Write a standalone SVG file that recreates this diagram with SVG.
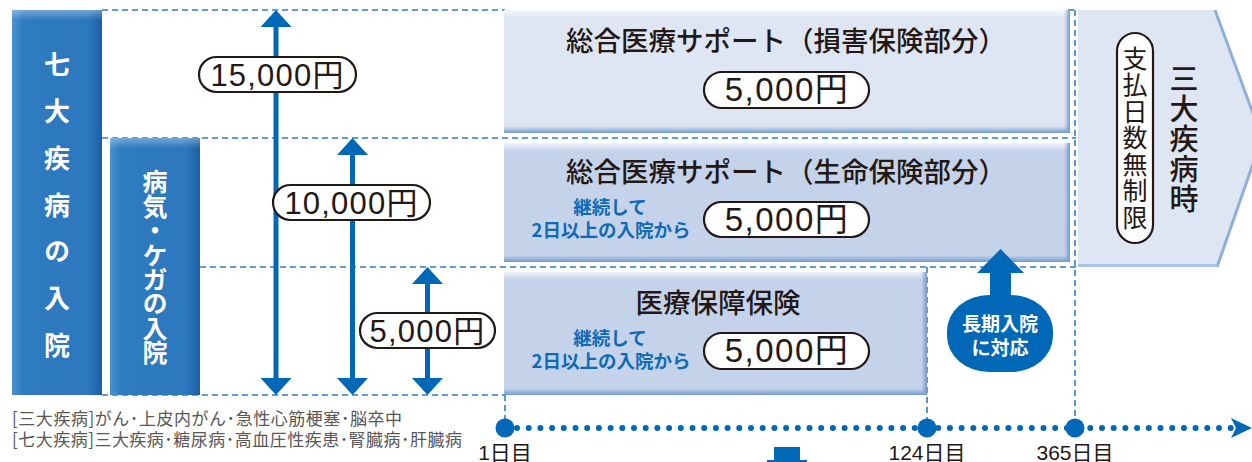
<svg xmlns="http://www.w3.org/2000/svg" width="1252" height="462" viewBox="0 0 1252 462">
<defs>
<linearGradient id="barGrad" x1="0" y1="0" x2="1" y2="0">
<stop offset="0" stop-color="#4d92cf"/>
<stop offset="0.12" stop-color="#2f7bc0"/>
<stop offset="0.85" stop-color="#2c77bd"/>
<stop offset="1" stop-color="#1c5ea6"/>
</linearGradient>
<linearGradient id="barTop" x1="0" y1="0" x2="0" y2="1">
<stop offset="0" stop-color="#ffffff" stop-opacity="0.35"/>
<stop offset="1" stop-color="#ffffff" stop-opacity="0"/>
</linearGradient>
<linearGradient id="edgeB" x1="0" y1="0" x2="0" y2="1">
<stop offset="0" stop-color="#7fa4d4" stop-opacity="0"/>
<stop offset="1" stop-color="#6f98cf"/>
</linearGradient>
<linearGradient id="edgeR" x1="0" y1="0" x2="1" y2="0">
<stop offset="0" stop-color="#7fa4d4" stop-opacity="0"/>
<stop offset="1" stop-color="#6f98cf"/>
</linearGradient>
<linearGradient id="edgeT" x1="0" y1="0" x2="0" y2="1">
<stop offset="0" stop-color="#ffffff" stop-opacity="0.7"/>
<stop offset="1" stop-color="#ffffff" stop-opacity="0"/>
</linearGradient>
</defs>
<style>
.dash{stroke:#2f7fc5;stroke-width:1.6;stroke-dasharray:6 4;fill:none}
.bartxt{font-family:"Noto Sans CJK JP",sans-serif;font-weight:700;fill:#ffffff;text-anchor:middle}
.vert{writing-mode:vertical-rl;text-orientation:upright}
.title{font-family:"Noto Sans CJK JP",sans-serif;font-weight:500;fill:#231815;text-anchor:middle;font-size:27.5px}
.blue{font-family:"Noto Sans CJK JP",sans-serif;font-weight:700;fill:#0f6ab5;text-anchor:middle;font-size:18.5px}
.pill{fill:#ffffff;stroke:#231815;stroke-width:2.2}
.amt{font-family:"Liberation Sans","Noto Sans CJK JP",sans-serif;fill:#231815;text-anchor:middle}
.arrow{fill:#0068b7}
.day{font-family:"Liberation Sans","Noto Sans CJK JP",sans-serif;fill:#231815;text-anchor:middle;font-size:21px}
.note{font-family:"Noto Sans CJK JP",sans-serif;fill:#595757;font-size:17px}
.vt{font-family:"Noto Sans CJK JP",sans-serif;fill:#231815;text-anchor:middle}
</style>

<!-- grid dashed lines -->
<g id="grid">
<line class="dash" x1="102" y1="10" x2="505" y2="10"/>
<line class="dash" x1="1068" y1="10" x2="1076" y2="10"/>
<line class="dash" x1="102" y1="138" x2="1076" y2="138"/>
<line class="dash" x1="200" y1="267" x2="1076" y2="267"/>
<line class="dash" x1="102" y1="395" x2="505" y2="395"/>
<line class="dash" x1="1075" y1="10" x2="1075" y2="428"/>
<line class="dash" x1="927" y1="267" x2="927" y2="428"/>
<line class="dash" x1="505" y1="395" x2="505" y2="428"/>
</g>

<!-- left bars -->
<g id="bar-seven">
<rect x="12" y="10" width="90" height="385" fill="url(#barGrad)"/>
<rect x="12" y="10" width="90" height="10" fill="url(#barTop)"/>
<text class="bartxt vert" font-size="26" letter-spacing="20.7" x="57" y="215">七大疾病の入院</text>
</g>
<g id="bar-illness">
<rect x="110" y="138" width="90" height="257" fill="url(#barGrad)"/>
<rect x="110" y="138" width="90" height="10" fill="url(#barTop)"/>
<text class="bartxt vert" font-size="25" letter-spacing="-0.6" x="155" y="267">病気・ケガの入院</text>
</g>

<!-- boxes -->
<g id="box-damage">
<rect x="504" y="10" width="566" height="123" fill="#dfe6f3"/>
<rect x="504" y="10" width="566" height="8" fill="url(#edgeT)"/>
<rect x="504" y="126" width="566" height="7" fill="url(#edgeB)"/>
<rect x="1064" y="10" width="6" height="123" fill="url(#edgeR)"/>
<text class="title" x="786" y="51">総合医療サポート（損害保険部分）</text>
<rect class="pill" x="704" y="72" width="165" height="36" rx="18"/>
<text class="amt" x="787" y="101" font-size="33" letter-spacing="1.5">5,000円</text>
</g>

<g id="box-life">
<rect x="504" y="143" width="566" height="119" fill="#c5d3ea"/>
<rect x="504" y="143" width="566" height="8" fill="url(#edgeT)"/>
<rect x="504" y="255" width="566" height="7" fill="url(#edgeB)"/>
<rect x="1064" y="143" width="6" height="119" fill="url(#edgeR)"/>
<text class="title" x="786" y="182">総合医療サポート（生命保険部分）</text>
<text class="blue" x="610" y="214">継続して</text>
<text class="blue" x="611" y="237">2日以上の入院から</text>
<rect class="pill" x="704" y="202" width="165" height="35" rx="17.5"/>
<text class="amt" x="787" y="231" font-size="33" letter-spacing="1.5">5,000円</text>
</g>

<g id="box-medical">
<rect x="504" y="272" width="423" height="123" fill="#c5d3ea"/>
<rect x="504" y="272" width="423" height="8" fill="url(#edgeT)"/>
<rect x="504" y="388" width="423" height="7" fill="url(#edgeB)"/>
<rect x="921" y="272" width="6" height="123" fill="url(#edgeR)"/>
<text class="title" x="718" y="313" font-size="29">医療保障保険</text>
<text class="blue" x="610" y="345">継続して</text>
<text class="blue" x="611" y="368">2日以上の入院から</text>
<rect class="pill" x="704" y="333" width="165" height="36" rx="18"/>
<text class="amt" x="787" y="362" font-size="33" letter-spacing="1.5">5,000円</text>
</g>

<!-- chevron -->
<g id="chevron">
<polygon points="1078,10 1215,10 1262,138 1217,267 1078,267" fill="#dfe6f3"/>
<polyline points="1215,10 1262,138 1217,267" fill="none" stroke="#8fb0da" stroke-width="3"/>
<line x1="1078" y1="265.5" x2="1217" y2="265.5" stroke="#a9c1e2" stroke-width="3"/>
<rect class="pill" x="1117" y="33" width="36" height="210" rx="18"/>
<text class="vt vert" font-size="25" letter-spacing="1.5" x="1135" y="138.5">支払日数無制限</text>
<text class="vt vert" font-size="29" font-weight="500" letter-spacing="1" x="1184" y="139">三大疾病時</text>
</g>

<!-- connectors: amount arrows -->
<g id="connectors">
<path class="arrow" d="M276,10 L291.5,27 L278.5,27 L278.5,378 L291.5,378 L276,395 L260.5,378 L273.5,378 L273.5,27 L260.5,27 Z"/>
<path class="arrow" d="M352.5,138 L368,155 L355,155 L355,378 L368,378 L352.5,395 L337,378 L350,378 L350,155 L337,155 Z"/>
<path class="arrow" d="M427.5,267 L443,284 L430,284 L430,378 L443,378 L427.5,395 L412,378 L425,378 L425,284 L412,284 Z"/>
<path class="arrow" d="M1000.5,249 L1024,273 L1011,273 L1011,300 L990,300 L990,273 L977,273 Z"/>
<line x1="517" y1="428" x2="1232" y2="428" stroke="#0068b7" stroke-width="6" stroke-linecap="round" stroke-dasharray="0 11.7"/>
<polygon class="arrow" points="1231,418 1252,428 1231,438 1236,428"/>
</g>

<!-- amount labels -->
<g id="label-15000">
<rect class="pill" x="199" y="57" width="157" height="35" rx="17.5"/>
<text class="amt" x="277.5" y="86" font-size="31" letter-spacing="1.2">15,000円</text>
</g>
<g id="label-10000">
<rect class="pill" x="273" y="185" width="157" height="35" rx="17.5"/>
<text class="amt" x="351.5" y="214" font-size="31" letter-spacing="1.2">10,000円</text>
</g>
<g id="label-5000">
<rect class="pill" x="360" y="313" width="135" height="35" rx="17.5"/>
<text class="amt" x="427.5" y="342" font-size="31" letter-spacing="1.2">5,000円</text>
</g>

<!-- long-term badge -->
<g id="badge-long">
<rect x="947" y="295" width="106" height="77" rx="42" ry="36" fill="#0068b7"/>
<text class="bartxt" font-size="19" x="1000" y="331">長期入院</text>
<text class="bartxt" font-size="19" x="1000" y="355">に対応</text>
</g>

<!-- timeline -->
<g id="timeline">
<circle class="arrow" cx="505" cy="428" r="9.5"/>
<circle class="arrow" cx="927" cy="428" r="9.5"/>
<circle class="arrow" cx="1075" cy="428" r="9.5"/>
<text class="day" x="505" y="460">1日目</text>
<text class="day" x="927" y="460">124日目</text>
<text class="day" x="1075" y="460">365日目</text>
</g>

<!-- cut-off shape at bottom -->
<g id="bottom-mark">
<rect x="774" y="447" width="26" height="15" fill="#0068b7"/>
<rect x="767" y="460" width="40" height="2" fill="#0068b7"/>
</g>

<!-- footnotes -->
<g id="footnotes">
<text class="note" x="12" y="425" textLength="390" lengthAdjust="spacing">[三大疾病]がん･上皮内がん･急性心筋梗塞･脳卒中</text>
<text class="note" x="12" y="446" textLength="450" lengthAdjust="spacing">[七大疾病]三大疾病･糖尿病･高血圧性疾患･腎臓病･肝臓病</text>
</g>
</svg>
